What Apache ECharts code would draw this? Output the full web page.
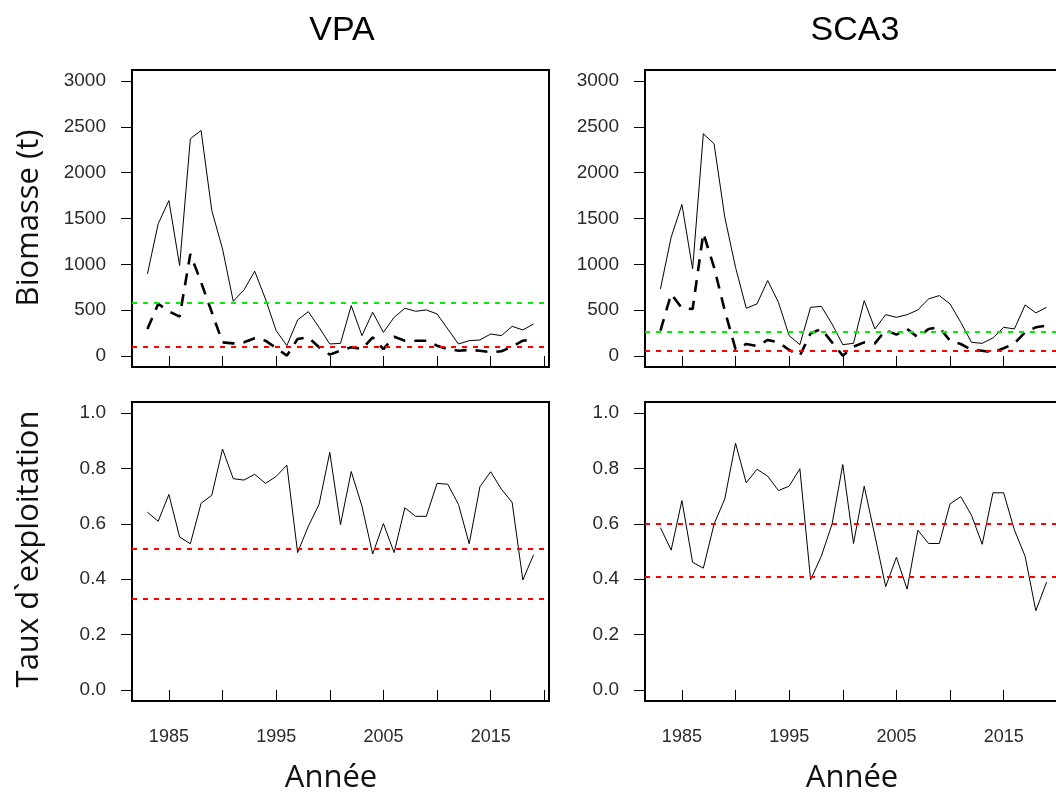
<!DOCTYPE html>
<html>
<head>
<meta charset="utf-8">
<script src="https://cdn.jsdelivr.net/npm/echarts@6/dist/echarts.min.js"></script>
<style>
  html, body { margin: 0; padding: 0; background: #fff; }
  #main { width: 1056px; height: 793px; }
</style>
</head>
<body>
<div id="main"></div>
<script>
// annees
var years = [1983, 1984, 1985, 1986, 1987, 1988, 1989, 1990, 1991, 1992,
             1993, 1994, 1995, 1996, 1997, 1998, 1999, 2000, 2001, 2002,
             2003, 2004, 2005, 2006, 2007, 2008, 2009, 2010, 2011, 2012,
             2013, 2014, 2015, 2016, 2017, 2018, 2019];

// VPA biomasse (trait plein) et biomasse reproductrice (tirets)
var vpaBio = [896, 1442, 1696, 987, 2370, 2461, 1587, 1169, 597, 721,
              925, 623, 277, 113, 393, 484, 313, 131, 138, 550,
              222, 477, 258, 422, 521, 488, 502, 459, 295, 131,
              167, 175, 240, 222, 324, 284, 349];
var vpaSsb = [295, 568, 488, 430, 1114, 805, 477, 149, 138, 149,
              193, 167, 87, 4, 186, 204, 95, 15, 58, 95,
              76, 204, 76, 211, 167, 167, 167, 113, 76, 58,
              66, 58, 40, 51, 102, 167, 180];
// SCA3
var scaBio = [732, 1296, 1653, 950, 2425, 2315, 1514, 968, 521, 568,
              823, 586, 222, 124, 531, 542, 349, 124, 138, 604,
              295, 451, 422, 451, 502, 623, 659, 568, 368, 149,
              138, 197, 313, 295, 557, 470, 531];
var scaSsb = [277, 677, 521, 513, 1340, 968, 495, 76, 131, 109,
              175, 149, 66, 4, 248, 295, 149, 4, 102, 149,
              138, 284, 233, 295, 204, 295, 313, 167, 131, 66,
              58, 40, 84, 138, 258, 313, 331];

// taux d'exploitation
var vpaExp = [0.642, 0.609, 0.706, 0.552, 0.528, 0.674, 0.703, 0.870, 0.763, 0.758,
              0.779, 0.746, 0.771, 0.812, 0.496, 0.591, 0.670, 0.858, 0.597, 0.789,
              0.664, 0.491, 0.601, 0.496, 0.658, 0.627, 0.627, 0.746, 0.743, 0.670,
              0.528, 0.734, 0.788, 0.725, 0.678, 0.397, 0.488];
var scaExp = [0.586, 0.505, 0.684, 0.461, 0.440, 0.599, 0.690, 0.891, 0.748, 0.797,
              0.772, 0.720, 0.736, 0.799, 0.398, 0.483, 0.599, 0.814, 0.529, 0.736,
              0.556, 0.373, 0.479, 0.364, 0.577, 0.529, 0.529, 0.672, 0.698, 0.631,
              0.526, 0.712, 0.712, 0.578, 0.483, 0.286, 0.389];

// points de reference
var vpaBioRef = { green: 582, red: 106 };
var scaBioRef = { green: 269, red: 58 };
var vpaExpRef = [0.511, 0.329];
var scaExpRef = [0.601, 0.415];

var xTicks = [1985, 1990, 1995, 2000, 2005, 2010, 2015, 2020];
var xLabels = [1985, 1995, 2005, 2015];
var bioTicks = [0, 500, 1000, 1500, 2000, 2500, 3000];
var expTicks = [0, 0.2, 0.4, 0.6, 0.8, 1.0];

function pairs(v) {
    var out = [];
    for (var i = 0; i < years.length; i++) out.push([years[i], v[i]]);
    return out;
}

var tickFont = { fontFamily: 'Liberation Sans, Arial, sans-serif', fontSize: 19, color: '#2a2a2a' };
var titleFont = 'Open Sans, sans-serif';

function xAxisDef(idx, withLabels) {
    return {
        type: 'value', gridIndex: idx, min: 1981.56, max: 2020.44,
        axisLine: { show: false },
        splitLine: { show: false },
        axisTick: { show: true, inside: false, length: 12, customValues: xTicks,
                    lineStyle: { color: '#000', width: 1 } },
        axisLabel: { show: withLabels, customValues: xLabels, margin: 27,
                     fontFamily: tickFont.fontFamily, fontSize: 18, color: tickFont.color,
                     formatter: function (v) { return String(v); } }
    };
}
function yAxisDef(idx, bio) {
    return {
        type: 'value', gridIndex: idx,
        min: bio ? -120 : -0.04, max: bio ? 3120 : 1.04,
        axisLine: { show: false },
        splitLine: { show: false },
        axisTick: { show: true, inside: false, length: 11, customValues: bio ? bioTicks : expTicks,
                    lineStyle: { color: '#000', width: 1 } },
        axisLabel: { show: true, customValues: bio ? bioTicks : expTicks, margin: 26,
                     fontFamily: tickFont.fontFamily, fontSize: tickFont.fontSize, color: tickFont.color,
                     formatter: function (v) { return bio ? String(v) : v.toFixed(1); } }
    };
}
function refLine(values, colors) {
    var data = [];
    for (var i = 0; i < values.length; i++) {
        data.push({ yAxis: values[i], lineStyle: { color: colors[i], type: [5, 6], width: 2 } });
    }
    return { silent: true, symbol: 'none', label: { show: false }, animation: false, data: data };
}
function solid(idx, v, ml) {
    var s = { type: 'line', xAxisIndex: idx, yAxisIndex: idx, data: pairs(v), showSymbol: false,
              animation: false, lineStyle: { color: '#000', width: 1 } };
    if (ml) s.markLine = ml;
    return s;
}
function dashed(idx, v) {
    return { type: 'line', xAxisIndex: idx, yAxisIndex: idx, data: pairs(v), showSymbol: false,
             animation: false, lineStyle: { color: '#000', width: 2.6, type: [12, 9] } };
}

var chart = echarts.init(document.getElementById('main'));
var frame = { show: true, borderColor: '#000', borderWidth: 2, backgroundColor: 'transparent',
              outerBoundsMode: 'none', containLabel: false };
option = {
    backgroundColor: '#fff',
    grid: [
        Object.assign({ left: 132, top: 70, width: 417, height: 297 }, frame),
        Object.assign({ left: 645, top: 70, width: 417, height: 297 }, frame),
        Object.assign({ left: 132, top: 402, width: 417, height: 299 }, frame),
        Object.assign({ left: 645, top: 402, width: 417, height: 299 }, frame)
    ],
    xAxis: [xAxisDef(0, false), xAxisDef(1, false), xAxisDef(2, true), xAxisDef(3, true)],
    yAxis: [yAxisDef(0, true), yAxisDef(1, true), yAxisDef(2, false), yAxisDef(3, false)],
    series: [
        dashed(0, vpaSsb),
        solid(0, vpaBio, refLine([vpaBioRef.green, vpaBioRef.red], ['#00ee00', '#ff0000'])),
        dashed(1, scaSsb),
        solid(1, scaBio, refLine([scaBioRef.green, scaBioRef.red], ['#00ee00', '#ff0000'])),
        solid(2, vpaExp, refLine(vpaExpRef, ['#ff0000', '#ff0000'])),
        solid(3, scaExp, refLine(scaExpRef, ['#ff0000', '#ff0000']))
    ],
    graphic: [
        { type: 'text', x: 342, y: 31, style: { text: 'VPA', font: '34px Liberation Sans, Arial, sans-serif', fill: '#000', textAlign: 'center', textVerticalAlign: 'middle' } },
        { type: 'text', x: 855, y: 31, style: { text: 'SCA3', font: '34px Liberation Sans, Arial, sans-serif', fill: '#000', textAlign: 'center', textVerticalAlign: 'middle' } },
        { type: 'text', x: 29, y: 218, rotation: Math.PI / 2, style: { text: 'Biomasse (t)', font: '31px ' + titleFont, fill: '#111', textAlign: 'center', textVerticalAlign: 'middle' } },
        { type: 'text', x: 29, y: 549, rotation: Math.PI / 2, style: { text: 'Taux d`exploitation', font: '31px ' + titleFont, fill: '#111', textAlign: 'center', textVerticalAlign: 'middle' } },
        { type: 'text', x: 331, y: 778, style: { text: 'Année', font: '31px ' + titleFont, fill: '#111', textAlign: 'center', textVerticalAlign: 'middle' } },
        { type: 'text', x: 852, y: 778, style: { text: 'Année', font: '31px ' + titleFont, fill: '#111', textAlign: 'center', textVerticalAlign: 'middle' } }
    ]
};
chart.setOption(option);
</script>
</body>
</html>
